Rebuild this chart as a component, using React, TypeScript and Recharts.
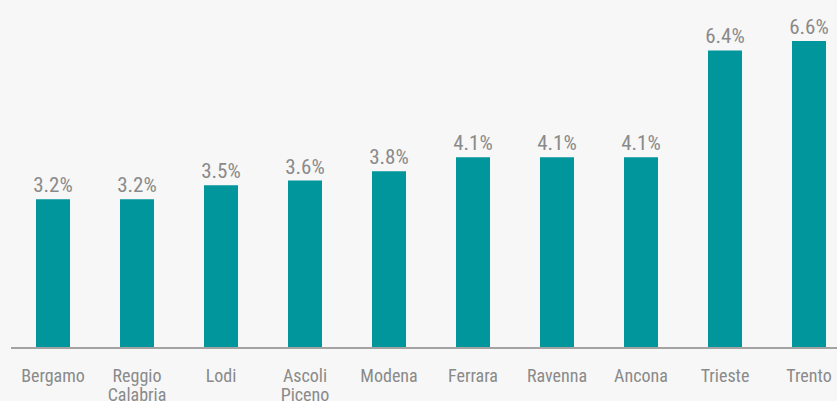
import { BarChart, Bar, XAxis, YAxis, LabelList } from 'recharts';

const cities = ['Bergamo', 'Reggio Calabria', 'Lodi', 'Ascoli Piceno', 'Modena', 'Ferrara', 'Ravenna', 'Ancona', 'Trieste', 'Trento'];
const rates = [3.2, 3.2, 3.5, 3.6, 3.8, 4.1, 4.1, 4.1, 6.4, 6.6];

const data = cities.map((city, i) => ({ city, rate: rates[i] }));

const FONT = "'Liberation Sans Narrow', 'Roboto Condensed', Roboto, sans-serif";

// two-word city names wrap onto a second line
const CityTick = ({ x, y, payload }: any) => {
  const words = String(payload.value).split(' ');
  return (
    <text x={x} y={y} textAnchor="middle" fill="#8a8a8a" fontSize={18} fontFamily={FONT}>
      {words.map((w, i) => (
        <tspan key={i} x={x} dy={i === 0 ? 26 : 19}>
          {w}
        </tspan>
      ))}
    </text>
  );
};

const App = () => {
  return (
    <div
      style={{
        position: 'absolute',
        left: 0,
        top: 0,
        width: 837,
        height: 401,
        background: '#f7f7f7',
        overflow: 'hidden',
      }}
    >
      <BarChart
        width={851}
        height={401}
        data={data}
        margin={{ top: 22.5, right: 0, left: 11, bottom: 0 }}
      >
        <XAxis
          dataKey="city"
          interval={0}
          height={53}
          tickLine={false}
          axisLine={{ stroke: '#a3a3a3', strokeWidth: 2 }}
          tick={<CityTick />}
        />
        <YAxis hide domain={[0, 7]} />
        <Bar dataKey="rate" fill="#00969b" barSize={34} isAnimationActive={false}>
          <LabelList
            dataKey="rate"
            position="top"
            offset={7}
            formatter={(v: any) => `${Number(v).toFixed(1)}%`}
            style={{ fill: '#8a8a8a', fontSize: 21, fontFamily: FONT }}
          />
        </Bar>
      </BarChart>
    </div>
  );
};

export default App;
